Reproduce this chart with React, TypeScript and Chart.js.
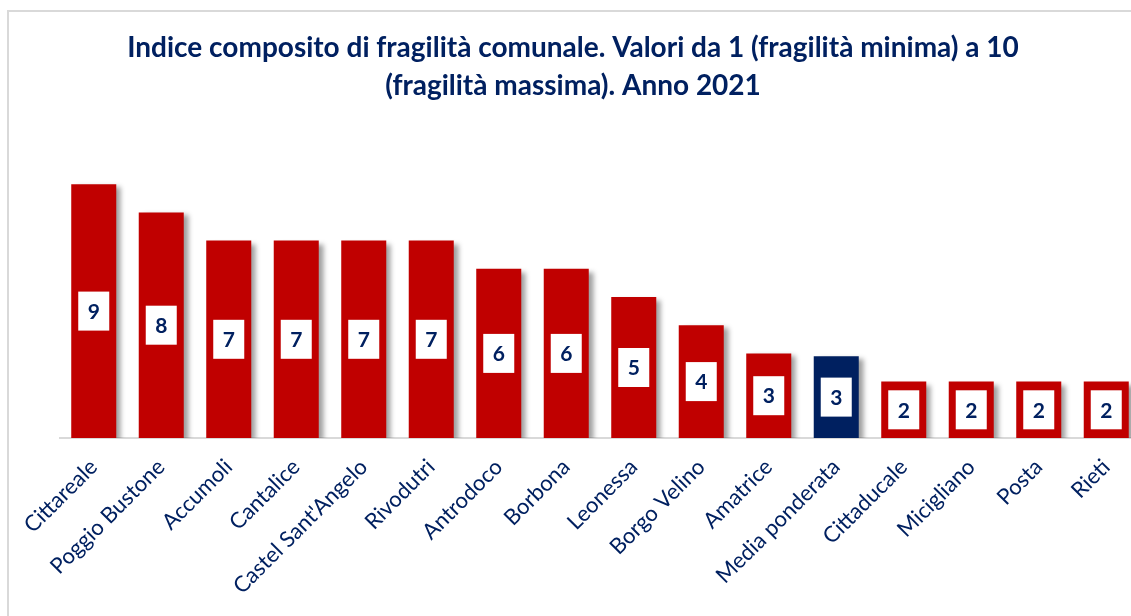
import React, { useEffect, useRef } from "react";
import { Chart, registerables } from "chart.js";

Chart.register(...registerables);

const categories = [
  "Cittareale",
  "Poggio Bustone",
  "Accumoli",
  "Cantalice",
  "Castel Sant'Angelo",
  "Rivodutri",
  "Antrodoco",
  "Borbona",
  "Leonessa",
  "Borgo Velino",
  "Amatrice",
  "Media ponderata",
  "Cittaducale",
  "Micigliano",
  "Posta",
  "Rieti",
];
const values = [9, 8, 7, 7, 7, 7, 6, 6, 5, 4, 3, 2.9, 2, 2, 2, 2];
const highlightCategory = "Media ponderata";
const titleLines = [
  "Indice composito di fragilità comunale. Valori da 1 (fragilità minima) a 10",
  "(fragilità massima). Anno 2021",
];

const RED = "#C00000";
const NAVY = "#002060";
const FONT = "Lato, 'Open Sans', sans-serif";

const barDecor = {
  id: "barDecor",
  beforeDatasetsDraw(chart: any) {
    const ctx = chart.ctx;
    ctx.save();
    ctx.shadowColor = "rgba(0,0,0,0.38)";
    ctx.shadowBlur = 5;
    ctx.shadowOffsetX = 5;
    ctx.shadowOffsetY = 3;
  },
  afterDatasetsDraw(chart: any) {
    const ctx = chart.ctx;
    ctx.restore();
    const meta = chart.getDatasetMeta(0);
    const data = chart.data.datasets[0].data as number[];
    meta.data.forEach((bar: any, i: number) => {
      const { x, y, base } = bar.getProps(["x", "y", "base"], true);
      const cy = (y + base) / 2;
      const w = 31;
      const h = 39;
      ctx.save();
      ctx.fillStyle = "#ffffff";
      ctx.fillRect(x - w / 2, cy - h / 2, w, h);
      ctx.fillStyle = NAVY;
      ctx.font = `bold 21px ${FONT}`;
      ctx.textAlign = "center";
      ctx.textBaseline = "middle";
      ctx.fillText(String(Math.round(data[i])), x, cy + 1);
      ctx.restore();
    });
  },
};

export default function App() {
  const canvasRef = useRef<HTMLCanvasElement | null>(null);

  useEffect(() => {
    if (!canvasRef.current) return;
    const chart = new Chart(canvasRef.current, {
      type: "bar",
      data: {
        labels: categories,
        datasets: [
          {
            data: values,
            backgroundColor: categories.map((c) => (c === highlightCategory ? NAVY : RED)),
            barPercentage: 0.667,
            categoryPercentage: 1,
          },
        ],
      },
      options: {
        responsive: false,
        animation: false,
        layout: { padding: { left: 6, right: 0, top: 0, bottom: 0 } },
        plugins: {
          legend: { display: false },
          tooltip: { enabled: false },
          title: {
            display: true,
            text: titleLines,
            color: NAVY,
            font: { family: FONT, size: 28, weight: "bold", lineHeight: 1.357 },
            padding: { top: 29, bottom: 51 },
          },
        },
        scales: {
          x: {
            offset: true,
            grid: { display: false },
            border: { display: true, color: "#d9d9d9", width: 2 },
            ticks: {
              color: NAVY,
              font: { family: FONT, size: 22 },
              minRotation: 45,
              maxRotation: 45,
              autoSkip: false,
              padding: 8,
            },
            afterFit: (s: any) => {
              s.height = 178;
            },
          },
          y: {
            display: true,
            min: 0,
            max: 10,
            grid: { display: false },
            border: { display: false },
            ticks: { display: false },
            afterFit: (s: any) => {
              s.width = 54;
            },
          },
        },
      },
      plugins: [barDecor],
    });
    return () => chart.destroy();
  }, []);

  return (
    <div style={{ position: "fixed", inset: 0, overflow: "hidden", background: "#fff" }}>
      <div
        style={{
          position: "absolute",
          left: 7,
          top: 10,
          width: 1300,
          height: 800,
          border: "2px solid #d9d9d9",
        }}
      />
      <canvas
        ref={canvasRef}
        width={1140}
        height={616}
        style={{ position: "absolute", left: 0, top: 0, display: "block" }}
      />
    </div>
  );
}
